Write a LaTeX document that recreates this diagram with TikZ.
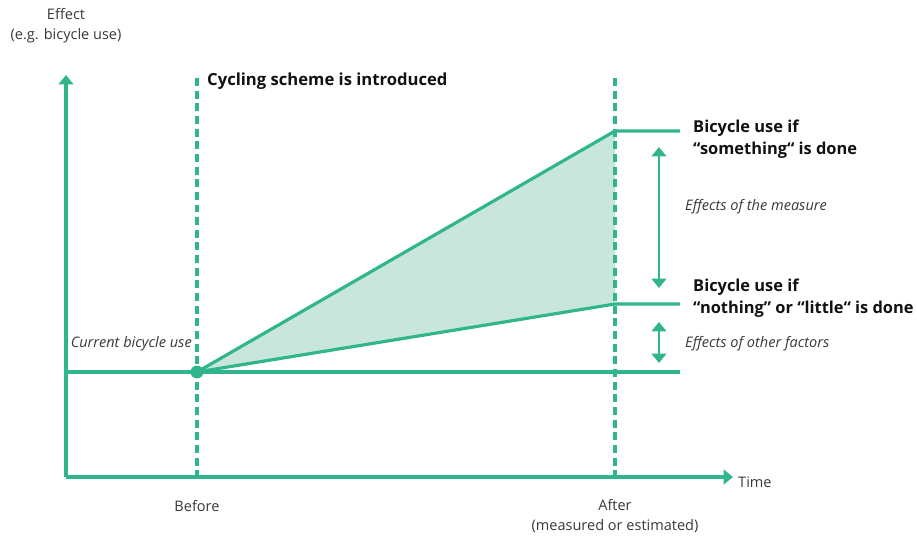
\documentclass[tikz,border=0pt]{standalone}
\usepackage{fontspec}
\setmainfont{Open Sans}
\usetikzlibrary{arrows.meta, positioning, calc}
\definecolor{bikegreen}{HTML}{30B58C}
\definecolor{bikefill}{HTML}{C8E6DB}
\definecolor{labelgray}{HTML}{383838}
\definecolor{labelblack}{HTML}{111111}

\begin{document}
\begin{tikzpicture}[x=0.03cm, y=-0.03cm,
		every node/.style={font=\fontsize{12.4}{17}\selectfont, text=labelgray, inner sep=0pt},
		axis/.style={line width=2.7pt, bikegreen, -{Triangle[length=8pt, width=12.5pt]}},
		level/.style={line width=2.7pt, bikegreen},
		marker/.style={line width=2.7pt, bikegreen, dash pattern=on 6.8pt off 4pt},
		span/.style={line width=2.2pt, bikegreen, {Triangle[length=8pt, width=12.5pt]}-{Triangle[length=8pt, width=12.5pt]}},
		outcome/.style={font=\fontsize{14}{19}\selectfont\bfseries, text=labelblack, align=left, anchor=west},
		note/.style={font=\fontsize{12.4}{15}\selectfont\itshape},
		]
		\useasboundingbox (0,0) rectangle (917,538);

		% Axes
		\coordinate (origin) at (66,477);
		\coordinate (ytip) at (66,75);
		\coordinate (xtip) at (733,477);
		\draw[axis] (origin) -- (ytip);
		\draw[axis] (origin) -- (xtip);
		\node[align=center] (ylabel) at (66,26) {Effect\\(e.g. bicycle use)};
		\node[anchor=west] (xlabel) at (738,482) {Time};

		% Points in time
		\coordinate (start) at (197,372);
		\coordinate (hi) at (615,131);
		\coordinate (lo) at (615,304);
		\fill[bikefill] (start) -- (hi) -- (lo) -- cycle;
		\draw[marker] (197,78) -- (197,477);
		\draw[marker] (615,78) -- (615,477);
		\node[font=\fontsize{14.2}{17}\selectfont\bfseries, text=labelblack, anchor=west] (intro) at (207,81) {Cycling scheme is introduced};
		\node (before) at (197,506) {Before};
		\node[align=center] (after) at (615,516) {After\\(measured or estimated)};

		% Development of bicycle use
		\coordinate (baseend) at (680,372);
		\coordinate (hiend) at (680,131);
		\coordinate (loend) at (680,304);
		\draw[level] (66,372) -- (baseend);
		\draw[level] (start) -- (hi) -- (hiend);
		\draw[level] (start) -- (lo) -- (loend);
		\node[circle, fill=bikegreen, minimum size=11pt] (now) at (start) {};
		\node[note, anchor=east] (current) at (192,344) {Current bicycle use};

		% Outcomes
		\node[outcome] (something) at (693,139) {Bicycle use if\\“something“ is done};
		\node[outcome] (nothing) at (693,298) {Bicycle use if\\“nothing” or “little“ is done};

		% Effects
		\coordinate (mtop) at (659,147);
		\coordinate (mbot) at (659,288);
		\coordinate (otop) at (659,322);
		\coordinate (obot) at (659,363);
		\draw[span] (mtop) -- (mbot);
		\draw[span] (otop) -- (obot);
		\node[note, anchor=west] (measure) at (685,207) {Effects of the measure};
		\node[note, anchor=west] (other) at (685,344) {Effects of other factors};
	\end{tikzpicture}
\end{document}
